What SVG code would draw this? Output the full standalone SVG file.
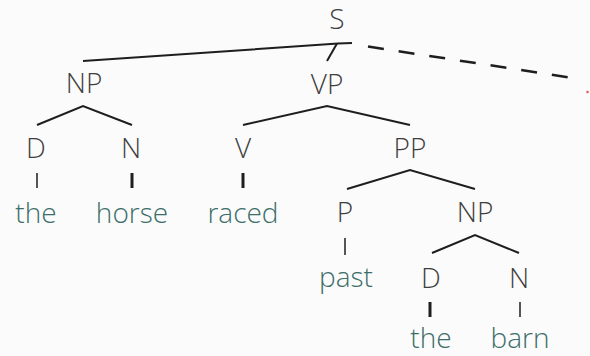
<svg xmlns="http://www.w3.org/2000/svg" width="590" height="356" viewBox="0 0 590 356">
<style>
.lab{font-family:"Open Sans","Noto Sans",sans-serif;font-weight:300;font-size:28px;fill:#3f3f3f;text-anchor:middle}
.word{font-family:"Open Sans","Noto Sans",sans-serif;font-weight:300;font-size:28px;fill:#3c6e69;text-anchor:middle}
.e{stroke:#1e1e1e;stroke-width:2;fill:none;stroke-linecap:butt}
.thin{stroke:#1e1e1e;stroke-width:1.5;fill:none}
.thick{stroke:#1e1e1e;stroke-width:3;fill:none}
.dash{stroke:#1e1e1e;stroke-width:2.5;fill:none;stroke-dasharray:16 15}
</style>
<rect width="590" height="356" fill="#fbfbfb"/>
<g id="connectors">
<polyline class="e" points="83,61 338,43.5 352,43"/>
<line class="e" x1="337" y1="43.5" x2="327" y2="61"/>
<line class="dash" x1="368" y1="46.5" x2="576" y2="78.5"/>
<polyline class="e" points="37,125 83,106 132,125"/>
<line class="thin" x1="37" y1="173" x2="37" y2="188"/>
<line class="thick" x1="132" y1="173" x2="132" y2="188"/>
<polyline class="e" points="243,125 327,106 410,125"/>
<line class="thick" x1="243" y1="173" x2="243" y2="188"/>
<polyline class="e" points="347,189 410,170 475,189"/>
<line class="thin" x1="345" y1="238" x2="345" y2="255"/>
<polyline class="e" points="432,253 475,235 519,253"/>
<line class="thick" x1="430" y1="302" x2="430" y2="317"/>
<line class="thin" x1="520" y1="302" x2="520" y2="317"/>
</g>
<circle cx="587.5" cy="92" r="1.2" fill="#e05050"/>
<g id="S"><text class="lab" x="337" y="29">S</text></g>
<g id="NP1"><text class="lab" x="84" y="93">NP</text></g>
<g id="D1"><text class="lab" x="36" y="158">D</text></g>
<g id="N1"><text class="lab" x="131" y="158">N</text></g>
<g id="the1"><text class="word" x="36" y="223">the</text></g>
<g id="horse"><text class="word" x="132" y="223">horse</text></g>
<g id="VP"><text class="lab" x="327" y="94">VP</text></g>
<g id="V"><text class="lab" x="243" y="158">V</text></g>
<g id="raced"><text class="word" x="243" y="223">raced</text></g>
<g id="PP"><text class="lab" x="410" y="158">PP</text></g>
<g id="P"><text class="lab" x="345" y="222">P</text></g>
<g id="past"><text class="word" x="346" y="287">past</text></g>
<g id="NP2"><text class="lab" x="475" y="222">NP</text></g>
<g id="D2"><text class="lab" x="431" y="288">D</text></g>
<g id="N2"><text class="lab" x="519" y="288">N</text></g>
<g id="the2"><text class="word" x="431" y="348">the</text></g>
<g id="barn"><text class="word" x="520" y="348">barn</text></g>
</svg>
